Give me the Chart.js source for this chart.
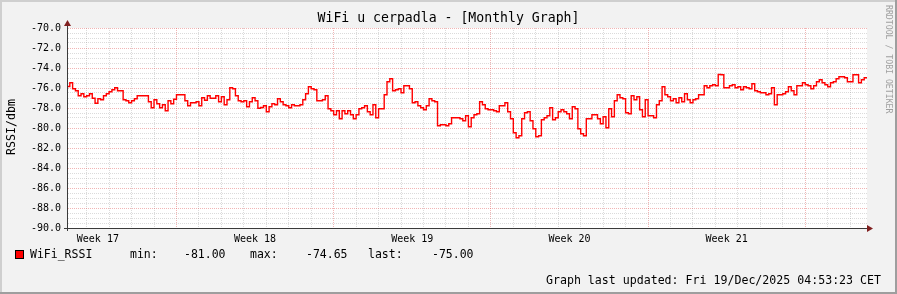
<!DOCTYPE html>
<html>
<head>
<meta charset="utf-8">
<title>WiFi u cerpadla - [Monthly Graph]</title>
<script src="https://cdn.jsdelivr.net/npm/chart.js@4.4.1/dist/chart.umd.min.js"></script>
<style>
    html, body { margin: 0; padding: 0; background: #F2F2F2; }
    #wrap { width: 897px; height: 294px; position: relative; }
</style>
</head>
<body>
<div id="wrap"><canvas id="rssiChart"></canvas></div>
<script>
// --- data ---
const TITLE = 'WiFi u cerpadla - [Monthly Graph]';
const Y_TITLE = 'RSSI/dbm';
const SERIES_NAME = 'WiFi_RSSI';
const WATERMARK = 'RRDTOOL / TOBI OETIKER';
const FOOTER = 'Graph last updated: Fri 19/Dec/2025 04:53:23 CET';

// hours relative to the start of "Week 18" (graph starts 117 h before it)
const START_HOUR = -117;
const STEP_HOURS = 3;

// RSSI (dBm), one value every 3 hours
const rssi = [
    -75.85, -75.48, -76.08, -76.28, -76.78, -76.58, -76.88, -76.78, -76.58, -77.02,
    -77.52, -77.08, -77.18, -76.78, -76.58, -76.38, -76.18, -75.98, -76.28, -76.28,
    -77.18, -77.28, -77.48, -77.28, -77.08, -76.78, -76.78, -76.78, -76.78, -77.38,
    -77.98, -77.18, -77.58, -77.98, -77.68, -78.28, -77.28, -77.58, -77.12, -76.68,
    -76.68, -76.68, -77.28, -77.78, -77.48, -77.48, -77.38, -77.78, -76.98, -77.22,
    -76.78, -77.02, -77.02, -76.78, -77.38, -76.88, -77.68, -77.18, -75.98, -76.08,
    -76.78, -77.28, -77.38, -77.28, -77.88, -77.38, -76.98, -77.28, -78.02, -77.95,
    -77.78, -78.38, -77.88, -77.58, -77.68, -77.08, -77.38, -77.68, -77.78, -77.98,
    -77.68, -77.78, -77.78, -77.68, -77.18, -76.58, -75.88, -76.08, -76.18, -77.28,
    -77.28, -77.18, -76.78, -78.08, -78.28, -78.68, -78.28, -79.08, -78.28, -78.58,
    -78.28, -78.68, -79.08, -78.68, -78.08, -77.98, -77.78, -78.38, -78.68, -77.68,
    -78.98, -78.08, -78.08, -76.68, -75.38, -75.08, -76.28, -76.18, -76.08, -76.48,
    -75.78, -75.78, -76.08, -77.48, -77.38, -77.78, -77.98, -78.18, -77.78, -77.08,
    -77.28, -77.38, -79.78, -79.68, -79.68, -79.78, -79.58, -78.98, -78.98, -78.98,
    -79.08, -79.28, -78.78, -79.88, -78.98, -78.68, -78.58, -77.38, -77.68, -78.08,
    -78.18, -78.18, -78.28, -78.38, -77.78, -77.78, -77.48, -78.38, -79.08, -80.48,
    -80.98, -80.78, -79.08, -78.48, -78.38, -79.28, -80.08, -80.88, -80.78, -79.18,
    -78.98, -78.78, -77.98, -79.18, -78.98, -78.38, -78.18, -78.38, -78.58, -79.08,
    -77.88, -78.08, -80.08, -80.58, -80.78, -79.08, -79.08, -78.68, -78.68, -79.08,
    -79.58, -78.88, -79.98, -78.08, -78.88, -77.28, -76.68, -76.98, -77.08, -78.48,
    -78.58, -76.78, -77.18, -76.88, -78.18, -78.88, -77.18, -78.78, -78.78, -78.98,
    -77.68, -77.28, -75.88, -76.68, -76.88, -77.28, -77.08, -77.48, -76.98, -77.38,
    -76.58, -77.18, -77.48, -77.18, -77.08, -76.68, -76.68, -75.78, -75.98, -75.78,
    -75.68, -75.78, -74.65, -74.68, -75.98, -75.98, -75.78, -75.68, -75.98, -75.88,
    -76.18, -75.88, -75.98, -76.08, -75.58, -76.28, -76.38, -76.48, -76.48, -76.68,
    -76.58, -75.98, -77.68, -76.68, -76.68, -76.58, -76.38, -75.88, -76.28, -76.68,
    -75.78, -75.78, -75.48, -75.68, -75.78, -76.08, -75.78, -75.38, -75.18, -75.48,
    -75.68, -75.88, -75.48, -75.38, -75.08, -74.88, -74.88, -74.98, -75.38, -75.38,
    -74.68, -74.68, -75.48, -75.18, -74.98, -75.00
];

// legend numbers as printed under the graph
const STAT_MIN = -81.00;
const STAT_MAX = -74.65;
const STAT_LAST = -75.00;

// axes
const Y_MIN = -90;
const Y_MAX = -70;
const WEEK_LABELS = ['Week 17', 'Week 18', 'Week 19', 'Week 20', 'Week 21'];
const WEEK_STARTS = [-168, 0, 168, 336, 504]; // hours

// colours (rrdtool defaults, softened a bit)
const C_BACK = '#F2F2F2';
const C_CANVAS = '#FFFFFF';
const C_SHADEA = '#CFCFCF';
const C_SHADEB = '#9E9E9E';
const C_GRID = 'rgba(143,143,143,0.32)';
const C_MGRID = 'rgba(222,79,79,0.42)';
const C_AXIS = '#3A3A3A';
const C_ARROW = '#801F1F';
const C_LINE = '#FF0000';

const MONO = '"DejaVu Sans Mono", "Liberation Mono", monospace';

document.addEventListener('DOMContentLoaded', () => {

    const points = rssi.map((v, i) => ({ x: START_HOUR + i * STEP_HOURS, y: v }));
    const xMax = START_HOUR + (rssi.length - 1) * STEP_HOURS;
    const labelHours = WEEK_STARTS.map(h => h + 84);

    // background, frame, texts and arrows like rrdtool
    const rrdDecor = {
        id: 'rrdDecor',
        beforeDraw(chart) {
            const { ctx, chartArea: a, width, height } = chart;
            ctx.save();
            ctx.fillStyle = C_BACK;
            ctx.fillRect(0, 0, width, height);
            ctx.fillStyle = C_SHADEA;
            ctx.fillRect(0, 0, width, 2);
            ctx.fillRect(0, 0, 2, height);
            ctx.fillStyle = C_SHADEB;
            ctx.fillRect(0, height - 2, width, 2);
            ctx.fillRect(width - 2, 0, 2, height);
            ctx.fillStyle = C_CANVAS;
            ctx.fillRect(a.left, a.top, a.right - a.left, a.bottom - a.top);
            ctx.restore();
        },
        afterDraw(chart) {
            const { ctx, chartArea: a, width } = chart;
            ctx.save();

            // axis extensions + arrows
            ctx.strokeStyle = C_AXIS;
            ctx.lineWidth = 1;
            ctx.beginPath();
            ctx.moveTo(a.left - 3, a.bottom + 0.5);
            ctx.lineTo(a.right + 2, a.bottom + 0.5);
            ctx.moveTo(a.left + 0.5, a.bottom + 3);
            ctx.lineTo(a.left + 0.5, a.top - 4);
            ctx.stroke();
            ctx.fillStyle = C_ARROW;
            ctx.beginPath();
            ctx.moveTo(a.left + 0.5, a.top - 8);
            ctx.lineTo(a.left - 3, a.top - 2);
            ctx.lineTo(a.left + 4, a.top - 2);
            ctx.closePath();
            ctx.fill();
            ctx.beginPath();
            ctx.moveTo(a.right + 6, a.bottom + 0.5);
            ctx.lineTo(a.right, a.bottom - 3);
            ctx.lineTo(a.right, a.bottom + 4);
            ctx.closePath();
            ctx.fill();

            // title
            ctx.fillStyle = '#000';
            ctx.font = '13.2px ' + MONO;
            ctx.textAlign = 'center';
            ctx.textBaseline = 'alphabetic';
            ctx.fillText(TITLE, width / 2, 22);

            // y axis title
            ctx.font = '11.6px ' + MONO;
            ctx.save();
            ctx.translate(15, 127);
            ctx.rotate(-Math.PI / 2);
            ctx.fillText(Y_TITLE, 0, 0);
            ctx.restore();

            // watermark
            ctx.save();
            ctx.fillStyle = '#A0A0A0';
            ctx.font = '8.2px ' + MONO;
            ctx.textAlign = 'left';
            ctx.translate(885.5, 5);
            ctx.rotate(Math.PI / 2);
            ctx.fillText(WATERMARK, 0, 0);
            ctx.restore();

            // legend
            const ds = chart.data.datasets[0];
            ctx.fillStyle = ds.borderColor;
            ctx.fillRect(15, 250, 9, 9);
            ctx.strokeStyle = '#000';
            ctx.strokeRect(15.5, 250.5, 8, 8);
            ctx.fillStyle = '#000';
            ctx.textAlign = 'left';
            ctx.font = '11.5px ' + MONO;
            const by = 258;
            ctx.fillText(ds.label, 30, by);
            ctx.fillText('min:', 130, by);
            ctx.fillText(STAT_MIN.toFixed(2), 184, by);
            ctx.fillText('max:', 250, by);
            ctx.fillText(STAT_MAX.toFixed(2), 306, by);
            ctx.fillText('last:', 368, by);
            ctx.fillText(STAT_LAST.toFixed(2), 432, by);

            // footer
            ctx.textAlign = 'right';
            ctx.font = '11.6px ' + MONO;
            ctx.fillText(FOOTER, 881, 284);
            ctx.restore();
        }
    };

    const ctx = document.getElementById('rssiChart');

    new Chart(ctx, {
        type: 'line',
        data: {
            datasets: [{
                label: SERIES_NAME,
                data: points,
                stepped: true,
                borderColor: C_LINE,
                borderWidth: 1.4,
                pointRadius: 0,
                fill: false,
            }]
        },
        options: {
            responsive: true,
            maintainAspectRatio: false,
            animation: false,
            events: [],
            layout: {
                padding: { left: 0, top: 28, right: 30, bottom: 0 }
            },
            plugins: {
                legend: { display: false },
                title: { display: false },
                tooltip: { enabled: false }
            },
            scales: {
                x: {
                    type: 'linear',
                    min: START_HOUR,
                    max: xMax,
                    afterBuildTicks: (scale) => {
                        const ticks = [];
                        for (let h = Math.ceil(START_HOUR / 24) * 24; h <= xMax; h += 24) ticks.push({ value: h });
                        labelHours.forEach(h => ticks.push({ value: h }));
                        ticks.sort((p, q) => p.value - q.value);
                        scale.ticks = ticks;
                    },
                    afterFit: (scale) => { scale.height = 66; },
                    grid: {
                        drawTicks: false,
                        lineWidth: 1,
                        color: (c) => {
                            const v = c.tick ? c.tick.value : 0;
                            if (v % 168 === 0) return C_MGRID;
                            if (v % 24 === 0) return C_GRID;
                            return 'rgba(0,0,0,0)';
                        }
                    },
                    border: { display: true, color: C_AXIS, width: 1, dash: [1, 1] },
                    ticks: {
                        autoSkip: false,
                        maxRotation: 0,
                        padding: 5,
                        color: '#000',
                        font: { family: MONO, size: 10 },
                        callback: (v) => {
                            const k = labelHours.indexOf(v);
                            return k >= 0 ? WEEK_LABELS[k] : '';
                        }
                    }
                },
                y: {
                    min: Y_MIN,
                    max: Y_MAX,
                    afterBuildTicks: (scale) => {
                        const ticks = [];
                        for (let k = 0; k <= (Y_MAX - Y_MIN) * 2; k++) ticks.push({ value: Y_MIN + k * 0.5 });
                        scale.ticks = ticks;
                    },
                    afterFit: (scale) => { scale.width = 67; },
                    grid: {
                        drawTicks: false,
                        lineWidth: 1,
                        color: (c) => {
                            const v = c.tick ? c.tick.value : 0;
                            return Math.abs(v % 2) < 1e-9 ? C_MGRID : C_GRID;
                        }
                    },
                    border: { display: true, color: C_AXIS, width: 1, dash: [1, 1] },
                    ticks: {
                        autoSkip: false,
                        padding: 6,
                        color: '#000',
                        font: { family: MONO, size: 10 },
                        callback: (v) => Math.abs(v % 2) < 1e-9 ? Number(v).toFixed(1) : ''
                    }
                }
            }
        },
        plugins: [rrdDecor]
    });
});
</script>
</body>
</html>
